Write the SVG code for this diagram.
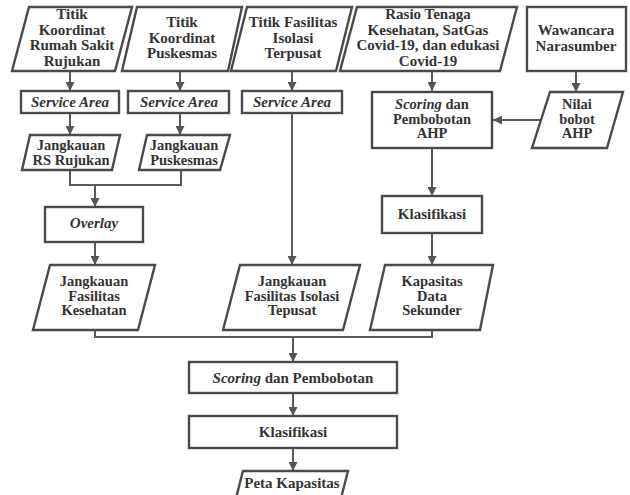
<svg xmlns="http://www.w3.org/2000/svg" width="630" height="495" viewBox="0 0 630 495">
<style>
.box{fill:#fff;stroke:#4a4a4a;stroke-width:2.4}
.ln{fill:none;stroke:#5a5a5a;stroke-width:2}
text{font-family:"Liberation Serif","Times New Roman",serif;font-weight:bold;font-size:15px;fill:#333;text-anchor:middle}
.it{font-style:italic}
.sm{font-size:14.5px}
</style>
<defs>
<marker id="ah" viewBox="0 0 10 10" refX="10" refY="5" markerUnits="userSpaceOnUse" markerWidth="9" markerHeight="9" orient="auto">
<path d="M0,0 L10,5 L0,10 z" fill="#555"/>
</marker>
</defs>
<rect width="630" height="495" fill="#fff"/>
<g id="connectors">
<path class="ln" d="M70,71 V91" marker-end="url(#ah)"/>
<path class="ln" d="M180,71 V91" marker-end="url(#ah)"/>
<path class="ln" d="M292,71 V91" marker-end="url(#ah)"/>
<path class="ln" d="M432,71 V91" marker-end="url(#ah)"/>
<path class="ln" d="M576,71 V92" marker-end="url(#ah)"/>
<path class="ln" d="M541,120 H493" marker-end="url(#ah)"/>
<path class="ln" d="M70,113 V135" marker-end="url(#ah)"/>
<path class="ln" d="M180,113 V135" marker-end="url(#ah)"/>
<path class="ln" d="M70,170 V185 H181 V170"/>
<path class="ln" d="M95,185 V207" marker-end="url(#ah)"/>
<path class="ln" d="M95,242 V265" marker-end="url(#ah)"/>
<path class="ln" d="M292,113 V265" marker-end="url(#ah)"/>
<path class="ln" d="M432,148 V196" marker-end="url(#ah)"/>
<path class="ln" d="M432,233 V265" marker-end="url(#ah)"/>
<path class="ln" d="M95,330 V337 H432 V330"/>
<path class="ln" d="M293,337 V362" marker-end="url(#ah)"/>
<path class="ln" d="M293,393 V416" marker-end="url(#ah)"/>
<path class="ln" d="M293,448 V471" marker-end="url(#ah)"/>
</g>
<g id="n-titik-rs">
<polygon class="box" points="29,7 132,7 115,71 12,71"/>
<text x="72" y="19">Titik</text>
<text x="72" y="34.5">Koordinat</text>
<text x="72" y="50">Rumah Sakit</text>
<text x="72" y="65.5">Rujukan</text>
</g>
<g id="n-titik-pusk">
<polygon class="box" points="137,7 242,7 228,71 122,71"/>
<text x="182" y="27">Titik</text>
<text x="182" y="42.5">Koordinat</text>
<text x="182" y="58">Puskesmas</text>
</g>
<g id="n-titik-isolasi">
<polygon class="box" points="247,7 352,7 336,71 231,71"/>
<text x="293" y="27">Titik Fasilitas</text>
<text x="293" y="42.5">Isolasi</text>
<text x="293" y="58">Terpusat</text>
</g>
<g id="n-rasio">
<polygon class="box" points="357,7 517,7 500,71 340,71"/>
<text x="428" y="19">Rasio Tenaga</text>
<text x="428" y="34.5">Kesehatan, SatGas</text>
<text x="428" y="50">Covid-19, dan edukasi</text>
<text x="428" y="65.5">Covid-19</text>
</g>
<g id="n-wawancara">
<rect class="box" x="527" y="7" width="99" height="64"/>
<text x="576" y="35">Wawancara</text>
<text x="576" y="50.5">Narasumber</text>
</g>
<g id="n-sa1">
<rect class="box" x="21" y="91" width="98" height="22"/>
<text class="it" x="70" y="107">Service Area</text>
</g>
<g id="n-sa2">
<rect class="box" x="128" y="91" width="101" height="22"/>
<text class="it" x="179" y="107">Service Area</text>
</g>
<g id="n-sa3">
<rect class="box" x="242" y="91" width="100" height="22"/>
<text class="it" x="292" y="107">Service Area</text>
</g>
<g id="n-scoring-ahp">
<rect class="box" x="372" y="92" width="120" height="56"/>
<text class="sm" x="432" y="109"><tspan class="it">Scoring</tspan> dan</text>
<text class="sm" x="432" y="123.5">Pembobotan</text>
<text class="sm" x="432" y="138">AHP</text>
</g>
<g id="n-nilai">
<polygon class="box" points="550,92 623,92 607,148 532,148"/>
<text class="sm" x="577" y="109">Nilai</text>
<text class="sm" x="577" y="123.5">bobot</text>
<text class="sm" x="577" y="138">AHP</text>
</g>
<g id="n-jk-rs">
<polygon class="box" points="30,135 120,135 112,170 22,170"/>
<text class="sm" x="71" y="150">Jangkauan</text>
<text class="sm" x="71" y="164.5">RS Rujukan</text>
</g>
<g id="n-jk-pusk">
<polygon class="box" points="147,135 230,135 220,170 139,170"/>
<text class="sm" x="184" y="150">Jangkauan</text>
<text class="sm" x="184" y="164.5">Puskesmas</text>
</g>
<g id="n-overlay">
<rect class="box" x="45" y="207" width="98" height="35"/>
<text class="it" x="94" y="228">Overlay</text>
</g>
<g id="n-klas1">
<rect class="box" x="382" y="196" width="100" height="37"/>
<text x="432" y="219">Klasifikasi</text>
</g>
<g id="n-jk-faskes">
<polygon class="box" points="50,265 155,265 138,330 33,330"/>
<text class="sm" x="94" y="286">Jangkauan</text>
<text class="sm" x="94" y="300.5">Fasilitas</text>
<text class="sm" x="94" y="315">Kesehatan</text>
</g>
<g id="n-jk-isolasi">
<polygon class="box" points="240,265 360,265 343,330 223,330"/>
<text class="sm" x="292" y="286">Jangkauan</text>
<text class="sm" x="292" y="300.5">Fasilitas Isolasi</text>
<text class="sm" x="292" y="315">Tepusat</text>
</g>
<g id="n-kapasitas">
<polygon class="box" points="385,265 493,265 480,330 370,330"/>
<text class="sm" x="432" y="286">Kapasitas</text>
<text class="sm" x="432" y="300.5">Data</text>
<text class="sm" x="432" y="315">Sekunder</text>
</g>
<g id="n-scoring">
<rect class="box" x="189" y="362" width="208" height="31"/>
<text x="293" y="383"><tspan class="it">Scoring</tspan> dan Pembobotan</text>
</g>
<g id="n-klas2">
<rect class="box" x="189" y="416" width="208" height="32"/>
<text x="293" y="437">Klasifikasi</text>
</g>
<g id="n-peta">
<polygon class="box" points="243,471 348,471 340,502 235,502"/>
<text x="292" y="488">Peta Kapasitas</text>
</g>
</svg>
